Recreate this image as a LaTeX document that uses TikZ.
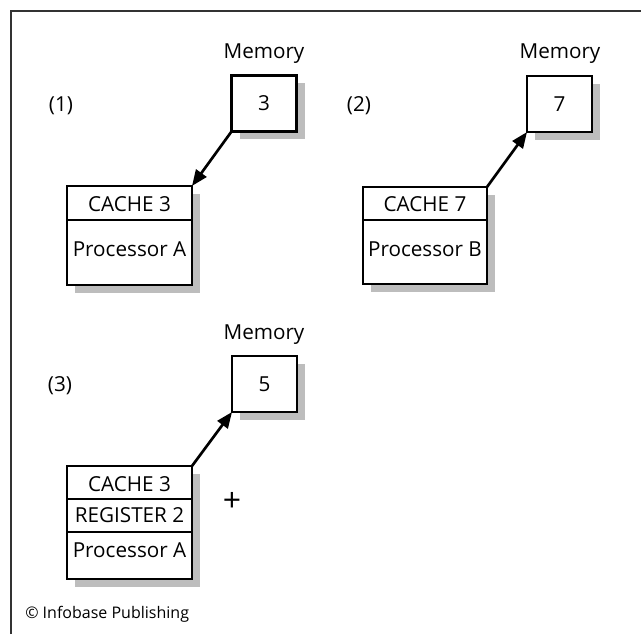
\documentclass[tikz,border=0pt]{standalone}
\usepackage{fontspec}
\setmainfont{Open Sans}
\usetikzlibrary{arrows.meta,shadows,calc}
\definecolor{shadowgray}{HTML}{BDBDBD}
\definecolor{framegray}{HTML}{333333}
\tikzset{
  box/.style={draw, line width=2.1pt, fill=white, inner sep=0pt, outer sep=0pt,
    drop shadow={shadow xshift=6pt, shadow yshift=-6pt, fill=shadowgray, opacity=1}},
  membox/.style={box, minimum width=48.75pt, minimum height=42pt, font=\fontsize{15.5}{18}\selectfont},
  lbl/.style={font=\fontsize{15.5}{18}\selectfont, inner sep=0pt},
  small/.style={font=\fontsize{12}{14}\selectfont, inner sep=0pt},
  divider/.style={line width=2.1pt},
  conn/.style={line width=2pt, -{Triangle[length=12pt,width=9.5pt]}}
}
\begin{document}
\begin{tikzpicture}[x=0.75pt,y=-0.75pt]
\useasboundingbox (0,0) rectangle (641,634);
% frame
\draw[framegray, line width=1.1pt] (11,634) -- (11,11) -- (641,11);

% ---------- panel 1 ----------
\node[lbl] (n1) at (61,106) {(1)};
\node[lbl, anchor=base] (ml1) at (264,59) {Memory};
\node[membox] (m1) at (264,103.5) {3};
\node[box, minimum width=93.75pt, minimum height=74.25pt] (p1) at (129.5,235.5) {};
\draw[divider] ($(p1.north west)+(0,34)$) -- ($(p1.north east)+(0,34)$);
\node[lbl] (c1) at (129.5,204) {CACHE 3};
\node[lbl] (pa1) at (129.5,249) {Processor A};
\draw[conn] (m1.south west) -- (p1.north east);

% ---------- panel 2 ----------
\node[lbl] (n2) at (359,106) {(2)};
\node[lbl, anchor=base] (ml2) at (560,59) {Memory};
\node[membox] (m2) at (559.5,104) {7};
\node[box, minimum width=93pt, minimum height=72.75pt] (p2) at (425,235.5) {};
\draw[divider] ($(p2.north west)+(0,33)$) -- ($(p2.north east)+(0,33)$);
\node[lbl] (c2) at (425,204) {CACHE 7};
\node[lbl] (pb2) at (425,249) {Processor B};
\draw[conn] (p2.north east) -- (m2.south west);

% ---------- panel 3 ----------
\node[lbl] (n3) at (60,386) {(3)};
\node[lbl, anchor=base] (ml3) at (264,339) {Memory};
\node[membox] (m3) at (264.5,384) {5};
\node[box, minimum width=93.75pt, minimum height=84.75pt] (p3) at (129.5,522.5) {};
\draw[divider] ($(p3.north west)+(0,33)$) -- ($(p3.north east)+(0,33)$);
\draw[divider] ($(p3.north west)+(0,66)$) -- ($(p3.north east)+(0,66)$);
\node[lbl] (c3) at (129.5,484) {CACHE 3};
\node[lbl] (r3) at (129.5,515.5) {REGISTER 2};
\node[lbl] (pa3) at (129.5,550) {Processor A};
\node[font=\fontsize{24}{26}\selectfont, inner sep=0pt] (plus) at (232,502) {+};
\draw[conn] (p3.north east) -- (m3.south west);

% copyright
\node[small, anchor=base west] (copy) at (25,618) {© Infobase Publishing};
\end{tikzpicture}
\end{document}
